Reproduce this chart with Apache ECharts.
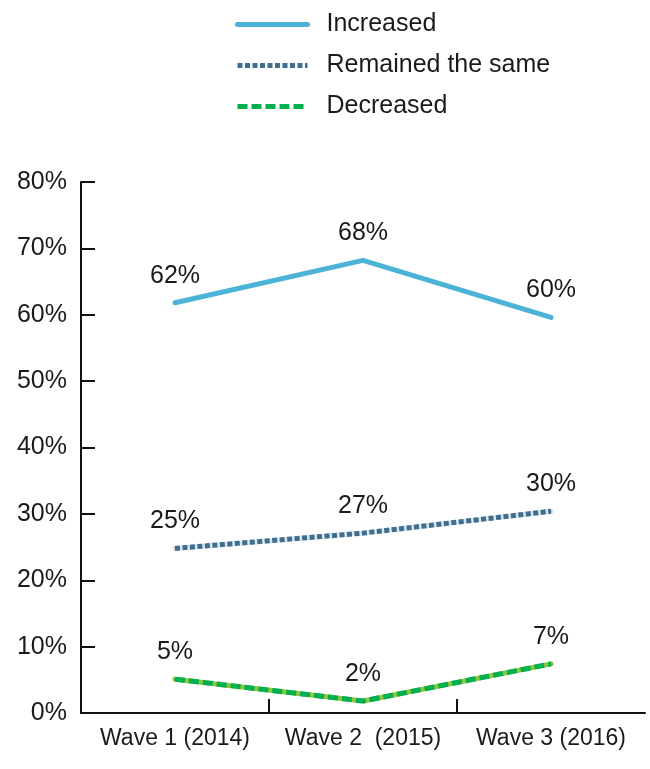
<!DOCTYPE html>
<html>
<head>
<meta charset="utf-8">
<script src="https://cdn.jsdelivr.net/npm/echarts@6/dist/echarts.min.js"></script>
<style>
  html, body { margin: 0; padding: 0; background: #fff; }
  #chart { width: 650px; height: 769px; }
</style>
</head>
<body>
<div id="chart"></div>
<script>
var categories = ['Wave 1 (2014)', 'Wave 2  (2015)', 'Wave 3 (2016)'];
var increased = [61.8, 68.2, 59.6];
var remained = [24.8, 27.1, 30.4];
var decreased = [5.1, 1.8, 7.4];
var yTicks = [0, 10, 20, 30, 40, 50, 60, 70, 80];

var font = '"Liberation Sans", Arial, sans-serif';

var chart = echarts.init(document.getElementById('chart'));

// pair each value with its category index so x can be a value axis
function pts(arr) {
  return arr.map(function (v, i) { return [i, v]; });
}

function label() {
  return {
    show: true,
    position: 'top',
    distance: 14,
    color: '#1a1a1a',
    fontFamily: font,
    fontSize: 25,
    formatter: function (p) { return Math.round(p.value[1]) + '%'; }
  };
}

chart.setOption({
  animation: false,
  textStyle: { fontFamily: font },
  legend: {
    orient: 'vertical',
    left: 230,
    top: 7,
    itemWidth: 70,
    itemHeight: 6,
    itemGap: 16,
    data: ['Increased', 'Remained the same', 'Decreased'],
    itemStyle: { opacity: 0 },
    lineStyle: { width: 5 },
    textStyle: { fontSize: 25, color: '#1a1a1a', fontFamily: font, padding: [0, 0, 0, 14] }
  },
  grid: { left: 81, right: 5, top: 182, bottom: 56 },
  xAxis: {
    type: 'value',
    min: -0.5,
    max: categories.length - 0.5,
    splitLine: { show: false },
    axisLine: { show: true, onZero: false, lineStyle: { color: '#111', width: 2 } },
    axisTick: {
      show: true, inside: true, length: 14,
      customValues: [0.5, 1.5],
      lineStyle: { color: '#111', width: 2 }
    },
    axisLabel: {
      customValues: [0, 1, 2],
      color: '#1a1a1a', fontSize: 23, fontFamily: font, margin: 14,
      formatter: function (v) { return categories[Math.round(v)]; }
    }
  },
  yAxis: {
    type: 'value',
    min: yTicks[0],
    max: yTicks[yTicks.length - 1],
    interval: 10,
    splitLine: { show: false },
    axisLine: { show: true, onZero: false, lineStyle: { color: '#111', width: 2 } },
    axisTick: { show: true, inside: true, length: 14, lineStyle: { color: '#111', width: 2 } },
    axisLabel: { color: '#1a1a1a', fontSize: 25, fontFamily: font, margin: 14, formatter: '{value}%' }
  },
  series: [
    {
      name: 'Increased',
      type: 'line',
      data: pts(increased),
      symbol: 'circle',
      symbolSize: 1,
      itemStyle: { color: '#4cb3d6' },
      lineStyle: { color: '#4cb3d6', width: 5, cap: 'round' },
      label: label(),
      z: 3
    },
    {
      name: 'Remained the same',
      type: 'line',
      data: pts(remained),
      symbol: 'circle',
      symbolSize: 1,
      itemStyle: { color: '#3e6e90' },
      lineStyle: { color: '#3e6e90', width: 5, type: [5, 2.5] },
      label: label(),
      z: 3
    },
    {
      name: 'Remained the same',
      type: 'line',
      data: pts(remained),
      symbol: 'none',
      lineStyle: { color: '#dbe4ec', width: 5, cap: 'round' },
      z: 2
    },
    {
      name: 'Decreased',
      type: 'line',
      data: pts(decreased),
      symbol: 'circle',
      symbolSize: 1,
      itemStyle: { color: '#00b050' },
      lineStyle: { color: '#00b050', width: 5, type: [10, 4] },
      label: label(),
      z: 3
    },
    {
      name: 'Decreased',
      type: 'line',
      data: pts(decreased),
      symbol: 'none',
      lineStyle: { color: '#8cc63f', width: 5, cap: 'round' },
      z: 2
    }
  ]
});
</script>
</body>
</html>
